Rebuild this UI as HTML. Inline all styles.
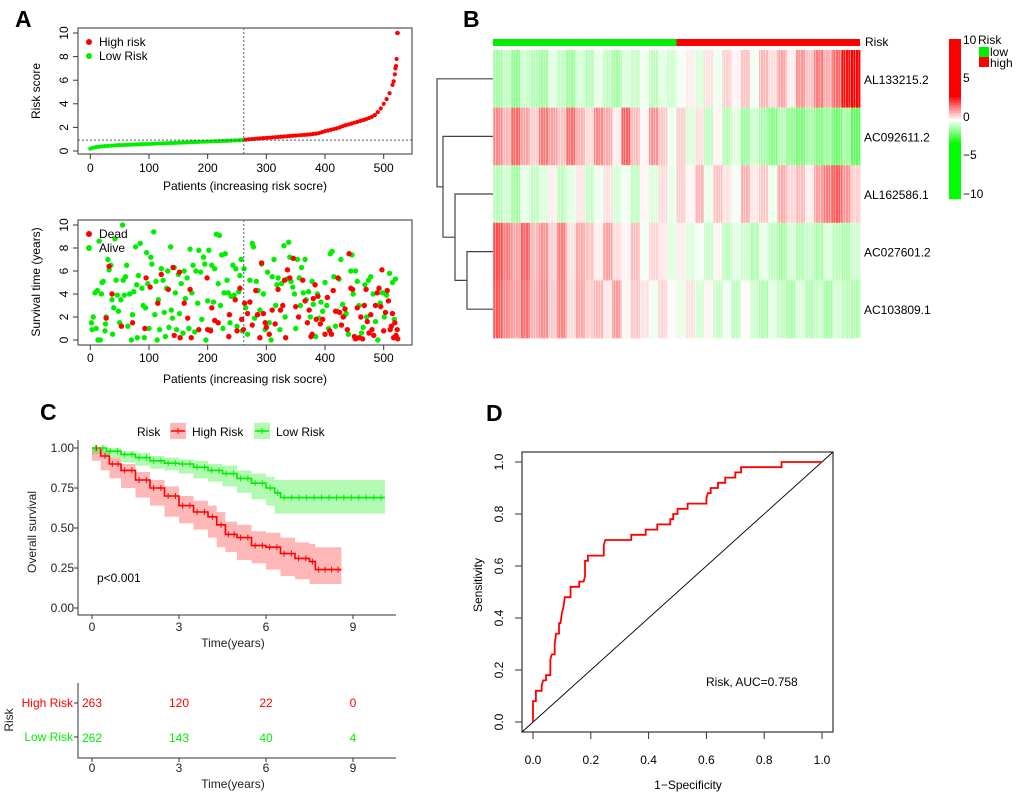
<!DOCTYPE html>
<html><head><meta charset="utf-8"><style>
body{margin:0;background:#fff}
svg{display:block;font-family:"Liberation Sans",Arial,sans-serif}
</style></head><body>
<svg id="fig" width="1020" height="797" viewBox="0 0 1020 797" xmlns="http://www.w3.org/2000/svg">
<defs>
<pattern id="stripes" patternUnits="userSpaceOnUse" width="5" height="10">
<rect x="0" y="0" width="1" height="10" fill="#fff" fill-opacity="0.45"/>
<rect x="3" y="0" width="1" height="10" fill="#fff" fill-opacity="0.25"/>
</pattern>
</defs>
</svg>
<script>
// ---------- data ----------
const riskScores=[0.20,0.28,0.33,0.36,0.39,0.41,0.43,0.45,0.47,0.49,0.5,0.51,0.52,0.53,0.54,0.55,0.56,0.57,0.58,0.59,0.6,0.61,0.62,0.63,0.64,0.65,0.66,0.67,0.68,0.69,0.7,0.71,0.72,0.73,0.74,0.75,0.76,0.77,0.78,0.79,0.8,0.81,0.82,0.83,0.84,0.85,0.86,0.87,0.88,0.89,0.9,0.91,0.93,0.96,0.99,1.01,1.03,1.05,1.07,1.09,1.11,1.13,1.15,1.17,1.19,1.21,1.23,1.25,1.27,1.29,1.31,1.33,1.35,1.37,1.39,1.41,1.44,1.47,1.52,1.6,1.68,1.74,1.8,1.86,1.92,2.0,2.1,2.18,2.25,2.32,2.4,2.47,2.55,2.62,2.7,2.8,2.9,3.05,3.3,3.6,4.0,4.4,4.9,5.6,7.0];
const tailPatients=[517,519,521,522,523,524];
const tailScores=[5.9,6.5,7.2,7.8,10,10];
const cutPatient=261.5, cutScore=0.92;
const aliveP=[2,3,5,8,10,12,13,15,17,19,20,22,25,26,27,30,32,35,37,38,40,42,44,46,48,50,52,55,56,58,60,62,64,67,70,72,74,77,79,80,82,85,88,90,92,94,96,98,100,103,105,108,110,112,114,116,118,121,124,126,128,130,132,134,137,138,140,143,145,147,150,152,155,158,160,162,165,168,170,173,175,178,180,183,185,188,190,193,195,197,200,202,205,207,210,212,215,218,220,222,224,226,228,230,233,235,238,240,243,245,248,250,253,255,257,259,262,265,268,272,276,278,280,283,286,289,292,295,298,302,305,308,310,313,316,318,320,323,326,330,332,335,338,340,342,345,348,350,353,356,358,360,363,366,368,372,375,378,380,384,387,390,393,396,400,403,406,409,412,415,418,421,424,427,430,433,436,440,444,446,448,452,455,458,462,465,468,471,474,478,482,486,490,494,498,501,505,510,515,518,520];
const aliveT=[1.5,0.9,2,4.1,1,4.3,0,8.6,0,4.0,5,5.1,0.8,1.4,2.0,7,6.1,6.5,3.5,0.5,2.8,8.8,5.2,3.9,2.5,1.5,3.5,10,5.2,3.9,5.5,6.5,1.2,4.0,0,2.2,4.2,8.1,4.8,0.2,5.6,8.4,4.5,3.0,0.2,2.8,7.6,4.9,1.0,7.2,6.6,9.4,2.2,5.1,0,3.5,0.9,6.2,5.2,2.4,0.3,4.5,6.0,1.1,8.1,2.6,1.9,6.3,4.1,0.9,5.7,2.3,4.9,0.6,6.0,3.6,5.4,1.0,7.9,4.1,6.5,0.7,6.0,3.2,7.8,5.9,1.8,7.2,6.6,0,3.4,7.8,0.9,6.5,3.3,6.2,9.2,4.9,9.1,3.0,7.4,1.0,4.1,7.5,5.2,4.1,1.5,3.8,6.5,3.9,6.2,1.2,4.2,5.6,7.0,0.8,6.2,2.8,0.5,5.2,8.4,8.1,1.9,5.1,4.3,2.6,6.6,4.0,0.9,5.9,1.5,0,5.5,7.0,3.0,4.8,5.4,0.9,4.9,8.2,2.0,5.3,8.5,7.2,5.1,4.6,4.0,1.0,7.0,5.4,3.0,6.3,4.1,7.0,3.5,4.2,2.0,5.1,3.1,0.3,4.0,1.9,3.3,2.5,5.0,3.0,1.0,7.5,7.7,5.5,1.2,2.5,5.3,7.0,3.1,2.1,2.3,0.5,6.0,7.4,4.0,6.0,5.1,3.0,0.6,1.1,4.8,2.0,5.2,5.5,4.0,1.6,0,3.2,4.1,2.0,3.9,5.8,5.0,1.8,5.3];
const deadP=[27,32,37,53,72,93,95,102,115,121,133,141,143,152,153,160,166,170,172,185,199,200,205,207,212,218,236,237,247,250,255,258,261,263,268,272,276,282,285,289,292,295,298,300,305,310,315,320,324,328,331,333,336,340,346,350,355,362,366,370,373,376,378,380,383,385,388,392,396,400,404,408,411,414,418,422,425,428,431,434,438,441,444,447,450,452,455,458,461,464,467,470,472,475,478,480,483,486,489,492,495,497,500,503,506,508,511,513,515,517,519,521,523,524];
const deadT=[1.9,6.4,4.0,1.2,1.5,1.0,5.4,4.6,3.2,5.7,4.4,6.3,0.4,5.9,0.2,3.2,1.9,4.4,0.2,0.9,5.4,0.9,0.8,2.8,1.7,1.5,0.3,2.2,3.5,0.8,4.5,1.8,0.9,3.2,2.3,3.3,1.3,4.3,2.2,0.2,6.7,2.3,1.5,1.1,0.5,2.6,1.4,4.4,2.6,3.0,5.2,0.2,6.1,5.4,7.1,2.9,2.0,5.2,3.4,1.5,2.6,0.3,0.5,3.6,4.8,1.8,3.8,1.4,1.8,0.5,3.7,0.8,0.5,4.3,2.5,5.4,2.4,1.3,2.0,2.7,0.9,7.5,4.5,4.4,0.3,0.1,2.8,0.2,2.0,0.1,3.0,4.4,1.6,0.6,2.2,0.9,0.4,3.0,4.1,4.5,2.9,6.1,0.8,2.4,4.3,3.4,0.9,1.2,2.3,0.2,1.5,0.4,0.9,0.1];
const genes=["AL133215.2","AC092611.2","AL162586.1","AC027601.2","AC103809.1"];
const heatRow1=[-1.5,-1,-1.8,-0.8,-1.2,-1.5,-0.5,-1,-1.6,-0.7,-1.2,-0.4,-1,-1.5,-0.6,-0.9,-0.3,-1.1,-0.5,-0.8,-0.2,0.3,-0.6,0.5,-0.3,0.8,0.2,1.0,-0.2,1.2,0.6,1.5,0.3,1.8,1.0,2.2,1.4,2.5,4,6];
const heatRow2=[2,1.2,2.5,1.5,0.8,2.2,1.6,1.0,2.4,1.3,0.6,2,1.4,0.3,2.6,1.1,0.2,1.8,0.9,-0.3,0.8,-0.6,0.5,-1,0.2,-1.2,-0.5,-1.6,-0.8,-1.4,-2,-1.2,-1.8,-2.2,-1.4,-2,-1.6,-2.4,-1.5,-2.6];
const heatRow3=[-1.2,-0.8,-1.5,-0.4,-1,-0.6,0.3,-1.1,-0.5,0.4,-0.9,-0.3,0.5,-0.7,-0.2,-1,0.2,-0.6,0.6,-0.4,0.8,0.2,1.2,-0.3,1.0,0.5,-0.2,1.3,0.4,0.9,-0.3,1.4,0.7,1.1,0.3,1.6,2.2,2.8,1.8,0.8];
const heatRow4=[3,2.2,1.5,2.6,1.2,1.8,0.8,2.2,0.5,1.4,1.0,0.3,1.6,0.6,0.2,1.1,-0.2,0.7,0.4,-0.5,0.3,-0.6,-0.2,-0.9,0.2,-1.1,-0.5,-0.8,-1.3,-0.4,-1,-1.5,-0.7,-1.2,-0.9,-1.4,-0.6,-1.1,-1.3,-0.8];
const heatRow5=[2.8,2,1.6,2.4,1.3,1.9,0.9,2.1,0.6,1.5,0.8,1.2,0.4,1.7,0.2,0.9,0.5,-0.3,0.7,0.1,-0.4,0.5,-0.7,0.2,-0.9,-0.3,-1.1,0.1,-0.8,-1.3,-0.5,-1,-1.4,-0.6,-1.2,-0.9,-1.5,-0.7,-1.1,-1.3];
const highT=[0,0.3,0.6,1,1.5,2,2.5,3,3.5,4,4.3,4.6,5,5.5,6,6.5,7,7.5,7.7,8.6];
const highS=[1,0.95,0.9,0.86,0.8,0.75,0.7,0.64,0.6,0.57,0.52,0.46,0.44,0.39,0.38,0.34,0.31,0.29,0.24,0.24];
const highLo=[1,0.92,0.86,0.81,0.75,0.69,0.64,0.57,0.53,0.49,0.44,0.38,0.35,0.3,0.28,0.24,0.2,0.18,0.15,0.15];
const highHi=[1,0.98,0.94,0.9,0.85,0.8,0.76,0.7,0.67,0.64,0.6,0.54,0.52,0.48,0.47,0.44,0.41,0.4,0.38,0.38];
const lowT=[0,0.5,1,1.5,2,2.5,3,3.5,4,4.5,5,5.5,6,6.3,6.5,10.1];
const lowS=[1,0.98,0.96,0.94,0.92,0.905,0.9,0.88,0.86,0.84,0.81,0.78,0.75,0.72,0.69,0.69];
const lowLo=[1,0.96,0.94,0.91,0.89,0.87,0.86,0.84,0.81,0.79,0.76,0.72,0.68,0.64,0.59,0.59];
const lowHi=[1,1,0.98,0.97,0.95,0.94,0.93,0.92,0.9,0.89,0.86,0.84,0.82,0.8,0.8,0.8];
const riskTimes=[0,3,6,9];
const highAtRisk=[263,120,22,0];
const lowAtRisk=[262,143,40,4];
const rocFpr=[0,0,0.01,0.01,0.03,0.03,0.035,0.045,0.045,0.06,0.06,0.065,0.075,0.075,0.08,0.09,0.09,0.095,0.1,0.105,0.11,0.13,0.13,0.16,0.16,0.175,0.18,0.18,0.19,0.19,0.245,0.245,0.25,0.34,0.34,0.39,0.39,0.43,0.43,0.475,0.475,0.485,0.485,0.5,0.5,0.535,0.535,0.6,0.6,0.605,0.615,0.615,0.64,0.64,0.665,0.665,0.7,0.7,0.72,0.72,0.86,0.86,1];
const rocTpr=[0,0.08,0.08,0.12,0.12,0.14,0.16,0.16,0.18,0.18,0.24,0.26,0.26,0.3,0.34,0.34,0.38,0.38,0.42,0.44,0.48,0.48,0.52,0.52,0.54,0.54,0.56,0.62,0.62,0.64,0.64,0.68,0.7,0.7,0.72,0.72,0.74,0.74,0.76,0.76,0.78,0.78,0.8,0.8,0.82,0.82,0.84,0.84,0.86,0.88,0.88,0.9,0.9,0.92,0.92,0.94,0.94,0.96,0.96,0.98,0.98,1,1];

// ---------- helpers ----------
const NS="http://www.w3.org/2000/svg";
const svg=document.getElementById('fig');
function el(tag,attrs,parent,text){const e=document.createElementNS(NS,tag);for(const k in attrs)e.setAttribute(k,attrs[k]);if(text!==undefined)e.textContent=text;(parent||svg).appendChild(e);return e;}
function txt(x,y,s,size,opts,parent){opts=opts||{};const a={x:x,y:y,'font-size':size,fill:opts.fill||'#000','text-anchor':opts.anchor||'middle'};if(opts.weight)a['font-weight']=opts.weight;if(opts.rot!==undefined)a.transform='rotate('+opts.rot+' '+x+' '+y+')';return el('text',a,parent,s);}
const RED='#ff0000',GREEN='#00ee00';

[['A',15,27],['B',463,27],['C',40,420],['D',486,421]].forEach(p=>{const t=txt(p[1],p[2],p[0],23,{weight:'bold',anchor:'start'});});

// ---------- A top ----------
(function(){
const g=el('g',{});
const xs=p=>90.3+p*0.5868, ys=v=>151-v*11.8;
el('rect',{x:78,y:28,width:334,height:126,fill:'none',stroke:'#333','stroke-width':1},g);
[0,2,4,6,8,10].forEach(v=>{el('line',{x1:73,x2:78,y1:ys(v),y2:ys(v),stroke:'#333'},g);txt(68,ys(v),String(v),12,{rot:-90},g);});
[0,100,200,300,400,500].forEach(v=>{el('line',{x1:xs(v),x2:xs(v),y1:154,y2:159,stroke:'#333'},g);txt(xs(v),172,String(v),12,{},g);});
txt(245,190,'Patients (increasing risk socre)',12,{},g);
txt(40,91,'Risk score',12,{rot:-90},g);
const pts=el('g',{},g);
riskScores.forEach((v,i)=>{const p=i*5;el('circle',{cx:xs(p),cy:ys(v),r:2.1,fill:p<cutPatient?GREEN:RED},pts);});
tailPatients.forEach((p,i)=>el('circle',{cx:xs(p),cy:ys(tailScores[i]),r:2.1,fill:RED},pts));
el('line',{x1:xs(cutPatient),x2:xs(cutPatient),y1:28,y2:154,stroke:'#555','stroke-dasharray':'2,2'},g);
el('line',{x1:78,x2:412,y1:ys(cutScore),y2:ys(cutScore),stroke:'#555','stroke-dasharray':'2,2'},g);
el('circle',{cx:89,cy:42,r:3,fill:RED},g);txt(99,46,'High risk',12,{anchor:'start'},g);
el('circle',{cx:89,cy:56,r:3,fill:GREEN},g);txt(99,60,'Low Risk',12,{anchor:'start'},g);
})();

// ---------- A bottom ----------
(function(){
const g=el('g',{});
const xs=p=>90.3+p*0.5868, ys=v=>340-v*11.5;
el('rect',{x:78,y:220,width:334,height:125,fill:'none',stroke:'#333'},g);
[0,2,4,6,8,10].forEach(v=>{el('line',{x1:73,x2:78,y1:ys(v),y2:ys(v),stroke:'#333'},g);txt(68,ys(v),String(v),12,{rot:-90},g);});
[0,100,200,300,400,500].forEach(v=>{el('line',{x1:xs(v),x2:xs(v),y1:345,y2:350,stroke:'#333'},g);txt(xs(v),362,String(v),12,{},g);});
txt(245,383,'Patients (increasing risk socre)',12,{},g);
txt(40,282,'Survival time (years)',12,{rot:-90},g);
const a=el('g',{},g);
aliveP.forEach((p,i)=>el('circle',{cx:xs(p),cy:ys(aliveT[i]),r:2.7,fill:GREEN},a));
const d=el('g',{},g);
deadP.forEach((p,i)=>el('circle',{cx:xs(p),cy:ys(deadT[i]),r:2.7,fill:RED},d));
el('line',{x1:xs(cutPatient),x2:xs(cutPatient),y1:220,y2:345,stroke:'#555','stroke-dasharray':'2,2'},g);
el('circle',{cx:89,cy:234,r:3,fill:RED},g);txt(99,238,'Dead',12,{anchor:'start'},g);
el('circle',{cx:89,cy:248,r:3,fill:GREEN},g);txt(99,252,'Alive',12,{anchor:'start'},g);
})();

// ---------- B heatmap ----------
(function(){
const g=el('g',{});
const L=493,R=860,T=50,rowH=57.6;
const rows=[heatRow1,heatRow2,heatRow3,heatRow4,heatRow5];
function col(v,sc){let t=Math.max(-1,Math.min(1,v/sc));if(t>=0){const c=Math.round(255*(1-t));return 'rgb(255,'+c+','+c+')';}const c=Math.round(255*(1+t));return 'rgb('+c+',255,'+c+')';}
el('rect',{x:L,y:39,width:(R-L)/2,height:7,fill:GREEN},g);
el('rect',{x:L+(R-L)/2,y:39,width:(R-L)/2,height:7,fill:RED},g);
txt(865,46,'Risk',12,{anchor:'start'},g);
rows.forEach((row,r)=>{const w=(R-L)/row.length;const rg=el('g',{},g);
  row.forEach((v,c)=>el('rect',{x:L+c*w,y:T+r*rowH,width:w+0.4,height:rowH+0.3,fill:col(v,4.2)},rg));
  txt(864,T+r*rowH+rowH/2+5,genes[r],12,{anchor:'start'},g);});
el('rect',{x:L,y:T,width:R-L,height:rowH*5,fill:'url(#stripes)'},g);
const cy=r=>T+r*rowH+rowH/2;
const d=el('g',{stroke:'#444',fill:'none','stroke-width':1.2},g);
const c45=(cy(3)+cy(4))/2, c345=(cy(2)+c45)/2, c2345=(cy(1)+c345)/2;
el('path',{d:`M493 ${cy(3)}H467V${cy(4)}H493 M493 ${cy(2)}H455V${c45}H467 M493 ${cy(1)}H443V${c345}H455 M493 ${cy(0)}H437V${c2345}H443`},d);
const cb=el('g',{},g);
for(let i=0;i<80;i++){const v=10-i*0.25;el('rect',{x:949,y:39+i*2,width:12,height:2.2,fill:col(v,3)},cb);}
[[10,44],[5,82],[0,121],[-5,159],[-10,198]].forEach(p=>txt(963,p[1],(p[0]<0?'\u2212':'')+Math.abs(p[0]),12,{anchor:'start'},cb));
txt(978,44,'Risk',12,{anchor:'start'},cb);
el('rect',{x:979,y:47,width:10,height:10,fill:GREEN},cb);txt(990,56,'low',12,{anchor:'start'},cb);
el('rect',{x:979,y:57,width:10,height:10,fill:RED},cb);txt(990,67,'high',12,{anchor:'start'},cb);
})();

// ---------- C KM ----------
(function(){
const g=el('g',{});
const xs=t=>92+t*29, ys=s=>608-s*160;
function stepPath(T,S){let d='M'+xs(T[0])+' '+ys(S[0]);for(let i=1;i<T.length;i++){d+='H'+xs(T[i])+'V'+ys(S[i]);}return d;}
function band(T,Lo,Hi){let d='M'+xs(T[0])+' '+ys(Hi[0]);for(let i=1;i<T.length;i++)d+='H'+xs(T[i])+'V'+ys(Hi[i]);d+='V'+ys(Lo[T.length-1]);for(let i=T.length-1;i>0;i--)d+='V'+ys(Lo[i])+'H'+xs(T[i-1]);return d+'Z';}
const b1=el('path',{d:band(highT,highLo,highHi),fill:'rgba(255,0,0,0.28)'},g);
const b2=el('path',{d:band(lowT,lowLo,lowHi),fill:'rgba(0,238,0,0.3)'},g);
const l1=el('path',{d:stepPath(highT,highS),fill:'none',stroke:RED,'stroke-width':1.6},g);
const l2=el('path',{d:stepPath(lowT,lowS),fill:'none',stroke:GREEN,'stroke-width':1.6},g);
function censor(T,S,color){for(let i=0;i<T.length-1;i++){const n=Math.max(1,Math.round((T[i+1]-T[i])*4));for(let k=0;k<n;k++){const t=T[i]+(T[i+1]-T[i])*(k+0.5)/n;el('line',{x1:xs(t),x2:xs(t),y1:ys(S[i])-3,y2:ys(S[i])+3,stroke:color,'stroke-width':1},g);}}}
censor(highT,highS,RED);censor(lowT,lowS,GREEN);
el('path',{d:'M78 440V615H396',fill:'none',stroke:'#333'},g);
[0,0.25,0.5,0.75,1].forEach(v=>{el('line',{x1:74,x2:78,y1:ys(v),y2:ys(v),stroke:'#333'},g);txt(74,ys(v)+4,v.toFixed(2),12,{anchor:'end',fill:'#222'},g);});
[0,3,6,9].forEach(v=>{el('line',{x1:xs(v),x2:xs(v),y1:615,y2:619,stroke:'#333'},g);txt(xs(v),631,String(v),12,{fill:'#222'},g);});
txt(233,647,'Time(years)',12,{fill:'#222'},g);
txt(36,532,'Overall survival',12,{rot:-90,fill:'#222'},g);
txt(97,582,'p<0.001',12,{anchor:'start'},g);
const lg=el('g',{},g);
txt(137,436,'Risk',12,{anchor:'start'},lg);
el('rect',{x:170,y:423,width:16,height:16,fill:'rgba(255,0,0,0.28)'},lg);el('line',{x1:171,x2:185,y1:431,y2:431,stroke:RED,'stroke-width':1.5},lg);el('line',{x1:178,x2:178,y1:428,y2:434,stroke:RED},lg);
txt(192,436,'High Risk',12,{anchor:'start'},lg);
el('rect',{x:254,y:423,width:16,height:16,fill:'rgba(0,238,0,0.3)'},lg);el('line',{x1:255,x2:269,y1:431,y2:431,stroke:GREEN,'stroke-width':1.5},lg);el('line',{x1:262,x2:262,y1:428,y2:434,stroke:GREEN},lg);
txt(276,436,'Low Risk',12,{anchor:'start'},lg);
const tb=el('g',{},g);
el('path',{d:'M78 683V758H396',fill:'none',stroke:'#333'},tb);
riskTimes.forEach((t,i)=>{txt(xs(t),707,String(highAtRisk[i]),12,{fill:RED},tb);txt(xs(t),742,String(lowAtRisk[i]),12,{fill:GREEN},tb);
  el('line',{x1:xs(t),x2:xs(t),y1:758,y2:762,stroke:'#333'},tb);txt(xs(t),772,String(t),12,{fill:'#222'},tb);});
el('line',{x1:74,x2:78,y1:703,y2:703,stroke:'#333'},tb);el('line',{x1:74,x2:78,y1:737,y2:737,stroke:'#333'},tb);
txt(73,707,'High Risk',12,{anchor:'end',fill:RED},tb);txt(73,741,'Low Risk',12,{anchor:'end',fill:GREEN},tb);
txt(233,788,'Time(years)',12,{fill:'#222'},tb);
txt(13,720,'Risk',12,{rot:-90,fill:'#222'},tb);
})();

// ---------- D ROC ----------
(function(){
const g=el('g',{});
const xs=v=>533+v*289, ys=v=>722-v*260;
el('rect',{x:522,y:452,width:311,height:280,fill:'none',stroke:'#333','stroke-width':1.2},g);
const diag=el('line',{x1:522,y1:732,x2:833,y2:452,stroke:'#000','stroke-width':0.9},g);
[0,0.2,0.4,0.6,0.8,1].forEach(v=>{el('line',{x1:xs(v),x2:xs(v),y1:732,y2:739,stroke:'#333'},g);txt(xs(v),764,v.toFixed(1),12,{},g);
  el('line',{x1:515,x2:522,y1:ys(v),y2:ys(v),stroke:'#333'},g);txt(503,ys(v),v.toFixed(1),12,{rot:-90},g);});
txt(688,789,'1\u2212Specificity',12,{},g);
txt(482,585,'Sensitivity',12,{rot:-90},g);
const pts=rocFpr.map((f,i)=>xs(f)+','+ys(rocTpr[i])).join(' ');
const c=el('polyline',{points:pts,fill:'none',stroke:RED,'stroke-width':1.8},g);
txt(706,686,'Risk, AUC=0.758',12,{anchor:'start'},g);
})();
</script>
</body></html>
